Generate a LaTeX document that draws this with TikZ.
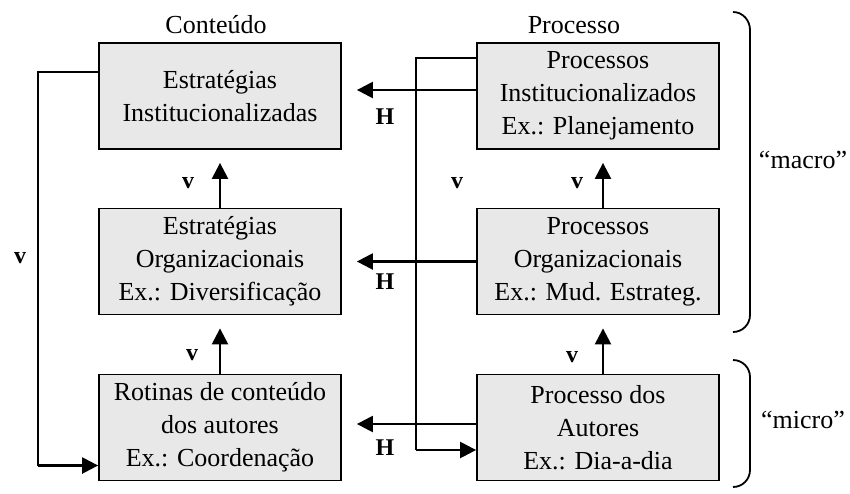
\documentclass[tikz,border=0pt]{standalone}
\usepackage{fontspec}
\setmainfont{Liberation Serif}
\usetikzlibrary{arrows.meta}
\begin{document}
\begin{tikzpicture}[x=0.5pt,y=-0.5pt,
  caixa/.style={draw,line width=0.9pt,fill=black!9,minimum width=121pt,minimum height=53pt,
    align=center,inner sep=2pt,font=\fontsize{13}{16.5}\selectfont},
  seta/.style={line width=1.2pt,-{Triangle[length=8pt,width=8pt]}},
  liga/.style={line width=1.2pt},
  rot/.style={font=\fontsize{13}{16}\selectfont},
  let/.style={font=\fontsize{12}{14}\selectfont\bfseries}]
 \useasboundingbox (0,0) rectangle (850,493);
 % coluna conteudo
 \node[caixa] (lt) at (220,96) {Estratégias\\Institucionalizadas};
 \node[caixa] (lm) at (220,261.5) {Estratégias\\Organizacionais\\Ex.: Diversificação};
 \node[caixa] (lb) at (220,427.5) {Rotinas de conteúdo\\dos autores\\Ex.: Coordenação};
 % coluna processo
 \node[caixa] (rt) at (598,96) {Processos\\Institucionalizados\\Ex.: Planejamento};
 \node[caixa] (rm) at (598,261.5) {Processos\\Organizacionais\\Ex.: Mud. Estrateg.};
 \node[caixa] (rb) at (598,427.5) {Processo dos\\Autores\\Ex.: Dia-a-dia};
 \node[rot] (tc) at (216,25) {Conteúdo};
 \node[rot] (tp) at (574,25) {Processo};
 % setas verticais
 \draw[seta,shorten >=6.5pt] (lm.north) -- (lt.south);
 \draw[seta,shorten >=6.5pt] (lb.north) -- (lm.south);
 \draw[seta,shorten >=6.5pt] ([xshift=2.5pt]rm.north) -- ([xshift=2.5pt]rt.south);
 \draw[seta,shorten >=6.5pt] ([xshift=2.5pt]rb.north) -- ([xshift=2.5pt]rm.south);
 % setas horizontais
 \draw[seta,shorten >=7.5pt] ([yshift=3pt]rt.west) -- ([yshift=3pt]lt.east);
 \draw[seta,shorten >=7.5pt] (rm.west) -- (lm.east);
 \draw[seta,shorten >=7.5pt] ([yshift=1.75pt]rb.west) -- ([yshift=1.75pt]lb.east);
 % retroalimentacao
 \draw[liga] ([yshift=12pt]lt.west) -| ([xshift=-30pt,yshift=-19pt]lb.west) coordinate (fl);
 \draw[seta] (fl) -- ([yshift=-19pt]lb.west);
 \draw[liga] ([yshift=19pt]rt.west) -| ([xshift=-30pt,yshift=-11.25pt]rb.west) coordinate (fr);
 \draw[seta] (fr) -- ([yshift=-11.25pt]rb.west);
 % rotulos
 \node[let] (h1) at (385,117) {H};
 \node[let] (h2) at (385,282) {H};
 \node[let] (h3) at (385,448) {H};
 \node[let] (v1) at (20,258) {v};
 \node[let] (v2) at (188,183) {v};
 \node[let] (v3) at (192,355) {v};
 \node[let] (v4) at (457,183) {v};
 \node[let] (v5) at (577,183) {v};
 \node[let] (v6) at (572,357) {v};
 % chaves
 \draw[line width=0.9pt] (733,12) to[out=0,in=90] (750,30) -- (750,315) to[out=-90,in=0] (733,332);
 \draw[line width=0.9pt] (733,360) to[out=0,in=90] (750,377) -- (750,470) to[out=-90,in=0] (733,487);
 \node[rot] (ma) at (803,160) {``macro''};
 \node[rot] (mi) at (803,420) {``micro''};
\end{tikzpicture}
\end{document}
